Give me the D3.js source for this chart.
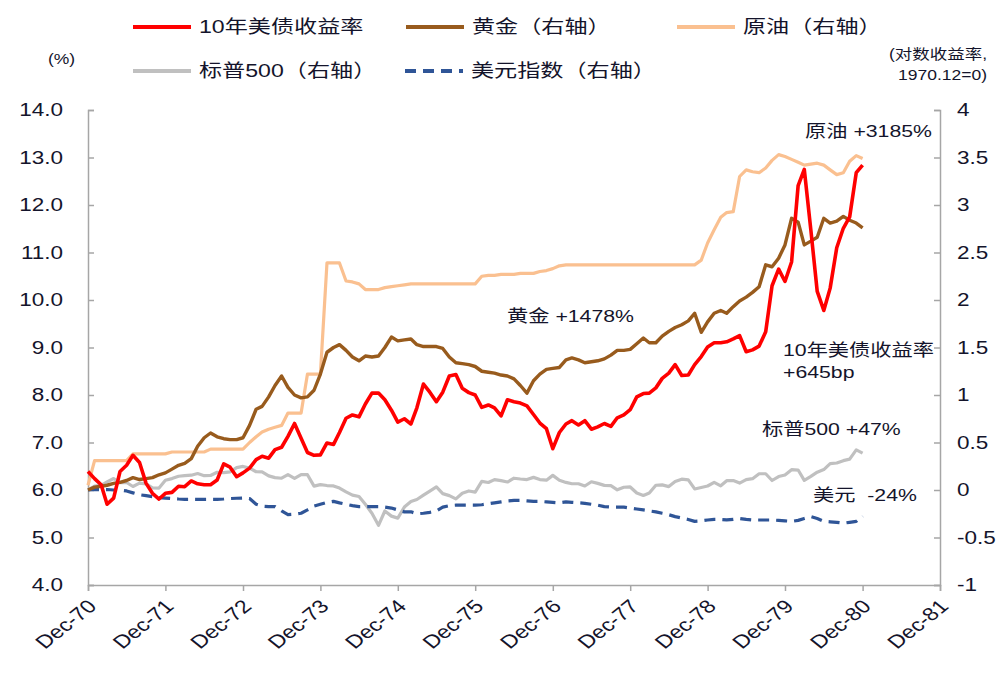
<!DOCTYPE html>
<html><head><meta charset="utf-8">
<script src="https://cdn.jsdelivr.net/npm/d3@7"></script>
<style>
body{margin:0;background:#fff}
svg{display:block}
text{font-family:"Liberation Sans","Noto Sans CJK SC",Arial,sans-serif;white-space:pre}
</style>
</head><body>
<svg id="chart" width="1005" height="678"></svg>
<script>
// ---------- data (monthly, Dec-1970 .. Dec-1980) ----------
const startMonth = [1970, 11]; // Dec 1970
const yield10y = [6.39,
 6.24,6.11,5.70,5.83,6.39,6.52,6.73,6.58,6.14,5.93,5.81,5.93,
 5.95,6.08,6.07,6.19,6.13,6.11,6.11,6.21,6.55,6.48,6.28,6.36,
 6.46,6.64,6.71,6.67,6.85,6.90,7.13,7.40,7.09,6.79,6.73,6.74,
 6.99,6.96,7.21,7.51,7.58,7.54,7.81,8.04,8.04,7.90,7.68,7.43,
 7.50,7.39,7.73,8.23,8.06,7.86,8.06,8.40,8.43,8.14,8.05,8.00,
 7.74,7.79,7.73,7.56,7.90,7.86,7.83,7.77,7.59,7.41,7.29,6.87,
 7.21,7.39,7.46,7.37,7.46,7.28,7.33,7.40,7.34,7.52,7.58,7.69,
 7.96,8.03,8.04,8.15,8.35,8.46,8.64,8.41,8.42,8.64,8.81,9.01,
 9.10,9.10,9.12,9.18,9.25,8.91,8.95,9.03,9.33,10.30,10.65,10.39,
 10.80,12.41,12.75,11.47,10.18,9.78,10.25,11.10,11.51,11.75,12.68,12.84];
const gold = [0.00,
 0.03,0.04,0.05,0.07,0.08,0.10,0.13,0.11,0.12,0.13,0.16,0.18,
 0.22,0.26,0.28,0.33,0.46,0.55,0.60,0.56,0.54,0.53,0.53,0.55,
 0.68,0.85,0.88,0.98,1.10,1.20,1.08,1.00,0.97,0.98,1.05,1.22,
 1.45,1.50,1.53,1.47,1.40,1.36,1.41,1.40,1.41,1.50,1.61,1.57,
 1.58,1.59,1.53,1.51,1.51,1.51,1.49,1.40,1.34,1.33,1.32,1.30,
 1.25,1.24,1.23,1.21,1.20,1.17,1.10,1.02,1.15,1.22,1.27,1.28,
 1.29,1.37,1.39,1.37,1.34,1.35,1.36,1.38,1.42,1.47,1.47,1.48,
 1.54,1.60,1.55,1.55,1.62,1.67,1.71,1.74,1.78,1.86,1.66,1.77,
 1.86,1.89,1.86,1.93,1.99,2.03,2.08,2.14,2.37,2.35,2.44,2.58,
 2.86,2.82,2.58,2.62,2.66,2.86,2.81,2.83,2.88,2.84,2.81,2.76];
const oil = [0.05,
 0.31,0.31,0.31,0.31,0.31,0.31,0.38,0.38,0.38,0.38,0.38,0.38,
 0.40,0.40,0.40,0.40,0.40,0.40,0.43,0.43,0.43,0.43,0.43,0.43,
 0.50,0.56,0.61,0.64,0.66,0.68,0.81,0.81,0.81,1.22,1.22,1.22,
 2.39,2.39,2.39,2.20,2.19,2.17,2.11,2.11,2.11,2.13,2.14,2.15,
 2.16,2.17,2.17,2.17,2.17,2.17,2.17,2.17,2.17,2.17,2.17,2.17,
 2.25,2.26,2.26,2.27,2.27,2.27,2.28,2.28,2.28,2.30,2.31,2.33,
 2.36,2.37,2.37,2.37,2.37,2.37,2.37,2.37,2.37,2.37,2.37,2.37,
 2.37,2.37,2.37,2.37,2.37,2.37,2.37,2.37,2.37,2.37,2.42,2.60,
 2.74,2.87,2.92,2.93,3.30,3.37,3.35,3.34,3.39,3.47,3.53,3.51,
 3.48,3.45,3.42,3.43,3.44,3.42,3.37,3.32,3.34,3.46,3.52,3.49];
const spx = [0.000,
 0.040,0.049,0.085,0.121,0.078,0.079,0.037,0.072,0.065,0.022,0.020,0.102,
 0.120,0.145,0.151,0.156,0.173,0.151,0.153,0.187,0.182,0.191,0.236,0.248,
 0.230,0.192,0.191,0.149,0.130,0.124,0.161,0.123,0.163,0.161,0.041,0.057,
 0.047,0.043,0.020,-0.020,-0.054,-0.069,-0.150,-0.245,-0.372,-0.221,-0.275,-0.296,
 -0.180,-0.122,-0.100,-0.054,-0.011,0.033,-0.038,-0.059,-0.094,-0.034,-0.010,-0.022,
 0.090,0.079,0.109,0.098,0.084,0.124,0.116,0.110,0.133,0.110,0.103,0.154,
 0.102,0.080,0.066,0.066,0.042,0.087,0.070,0.049,0.046,0.002,0.029,0.032,
 -0.032,-0.057,-0.032,0.050,0.054,0.036,0.089,0.114,0.107,0.011,0.027,0.042,
 0.081,0.044,0.098,0.099,0.073,0.110,0.119,0.171,0.171,0.100,0.142,0.158,
 0.214,0.210,0.102,0.143,0.188,0.215,0.278,0.284,0.309,0.325,0.422,0.388];
const dollar = [0.000,
 0.005,0.005,0.005,0.000,0.000,-0.010,-0.030,-0.050,-0.060,-0.070,-0.080,-0.085,
 -0.090,-0.095,-0.098,-0.098,-0.098,-0.098,-0.098,-0.098,-0.095,-0.090,-0.087,-0.085,
 -0.090,-0.150,-0.170,-0.175,-0.175,-0.220,-0.260,-0.255,-0.245,-0.210,-0.170,-0.150,
 -0.130,-0.120,-0.135,-0.150,-0.165,-0.175,-0.175,-0.175,-0.175,-0.180,-0.190,-0.210,
 -0.230,-0.230,-0.250,-0.245,-0.235,-0.220,-0.180,-0.165,-0.160,-0.160,-0.160,-0.160,
 -0.155,-0.145,-0.135,-0.125,-0.115,-0.110,-0.110,-0.115,-0.120,-0.120,-0.125,-0.130,
 -0.135,-0.125,-0.130,-0.135,-0.140,-0.150,-0.160,-0.175,-0.180,-0.180,-0.180,-0.190,
 -0.200,-0.210,-0.220,-0.230,-0.245,-0.260,-0.280,-0.295,-0.310,-0.330,-0.325,-0.316,
 -0.310,-0.310,-0.315,-0.310,-0.300,-0.310,-0.316,-0.316,-0.316,-0.316,-0.320,-0.325,
 -0.330,-0.320,-0.300,-0.280,-0.300,-0.330,-0.335,-0.340,-0.350,-0.340,-0.330,-0.275];

const xTickLabels = ["Dec-70","Dec-71","Dec-72","Dec-73","Dec-74","Dec-75","Dec-76","Dec-77","Dec-78","Dec-79","Dec-80","Dec-81"];
const leftTicks = [4,5,6,7,8,9,10,11,12,13,14];
const rightTicks = [-1,-0.5,0,0.5,1,1.5,2,2.5,3,3.5,4];

const seriesNames = ["10年美债收益率","黄金（右轴）","原油（右轴）","标普500（右轴）","美元指数（右轴）"];
const annotations = [
  {t:"原油 +3185%", x:805, y:131},
  {t:"黄金 +1478%", x:507, y:316},
  {t:"10年美债收益率", x:783, y:350},
  {t:"+645bp", x:783, y:372},
  {t:"标普500 +47%", x:762, y:429},
  {t:"美元  -24%", x:813, y:495}
];

// ---------- drawing ----------
const svg = d3.select("#chart");
const SX = 1.25; // horizontal stretch of the reference's text
const ink = "#14142b";

const dateOf = i => d3.timeMonth.offset(new Date(startMonth[0], startMonth[1], 1), i);
const x = d3.scaleTime()
  .domain([new Date(1970,11,1), new Date(1981,11,1)])
  .range([88, 940]);
const yL = d3.scaleLinear().domain([4,14]).range([585,110]);
const yR = d3.scaleLinear().domain([-1,4]).range([585,110]);

function label(px, py, str, size, anchor, extra){
  return svg.append("text")
    .attr("transform", `translate(${px},${py}) scale(${SX},1)` + (extra||""))
    .attr("text-anchor", anchor||"start")
    .attr("dy","0.35em")
    .attr("font-size", size)
    .attr("fill", ink)
    .text(str);
}

// axes
const axisColor = "#a6a6a6";
const xTickDates = xTickLabels.map((d,i)=> new Date(1970+i, 11, 1));
const gx = svg.append("g").attr("transform","translate(0,585)")
  .call(d3.axisBottom(x).tickValues(xTickDates).tickSize(6).tickFormat(""));
const gl = svg.append("g").attr("transform","translate(88,0)")
  .call(d3.axisLeft(yL).tickValues(leftTicks).tickSize(-6).tickFormat(""));
const gr = svg.append("g").attr("transform","translate(940,0)")
  .call(d3.axisRight(yR).tickValues(rightTicks).tickSize(-6).tickFormat(""));
[gx,gl,gr].forEach(g=>{
  g.selectAll("path").attr("stroke",axisColor).attr("stroke-width",1.5);
  g.selectAll("line").attr("stroke",axisColor).attr("stroke-width",1.5);
});

leftTicks.forEach(v=> label(63, yL(v), v.toFixed(1), 18, "end"));
rightTicks.forEach(v=> label(957, yR(v), String(v), 18, "start"));
xTickDates.forEach((d,i)=>{
  svg.append("text")
    .attr("transform", `translate(${x(d)+4},603) scale(${SX},1) rotate(-45)`)
    .attr("text-anchor","end")
    .attr("dy","0.35em")
    .attr("font-size",18.5)
    .attr("fill",ink)
    .text(xTickLabels[i]);
});

// series
const mk = (arr, y) => d3.line().x((d,i)=>x(dateOf(i))).y(d=>y(d))(arr);
const styles = [
  {data:spx, y:yR, color:"#c0c0c0", w:3.2},
  {data:dollar, y:yR, color:"#2f5597", w:3.2, dash:"11,7"},
  {data:oil, y:yR, color:"#fac090", w:3.2},
  {data:gold, y:yR, color:"#985b1d", w:3.4},
  {data:yield10y, y:yL, color:"#ff0000", w:3.6}
];
styles.forEach(s=>{
  svg.append("path")
    .attr("d", mk(s.data, s.y))
    .attr("fill","none")
    .attr("stroke", s.color)
    .attr("stroke-width", s.w)
    .attr("stroke-linejoin","round")
    .attr("stroke-dasharray", s.dash||null);
});

// legend
const legend = [
  {name:seriesNames[0], color:"#ff0000", x:133, y:27},
  {name:seriesNames[1], color:"#985b1d", x:406, y:27},
  {name:seriesNames[2], color:"#fac090", x:677, y:27},
  {name:seriesNames[3], color:"#c0c0c0", x:133, y:71},
  {name:seriesNames[4], color:"#2f5597", x:405, y:71, dash:"11,7"}
];
legend.forEach(l=>{
  svg.append("line").attr("x1",l.x).attr("x2",l.x+58).attr("y1",l.y).attr("y2",l.y)
    .attr("stroke",l.color).attr("stroke-width",4).attr("stroke-dasharray",l.dash||null);
  label(l.x+66, l.y, l.name, 18.5, "start");
});

// axis titles
label(48, 59, "(%)", 14, "start");
label(987, 54, "(对数收益率,", 14, "end");
label(987, 75, "1970.12=0)", 14, "end");

// annotations
annotations.forEach(a=> label(a.x, a.y, a.t, 17, "start"));
</script>
</body></html>
